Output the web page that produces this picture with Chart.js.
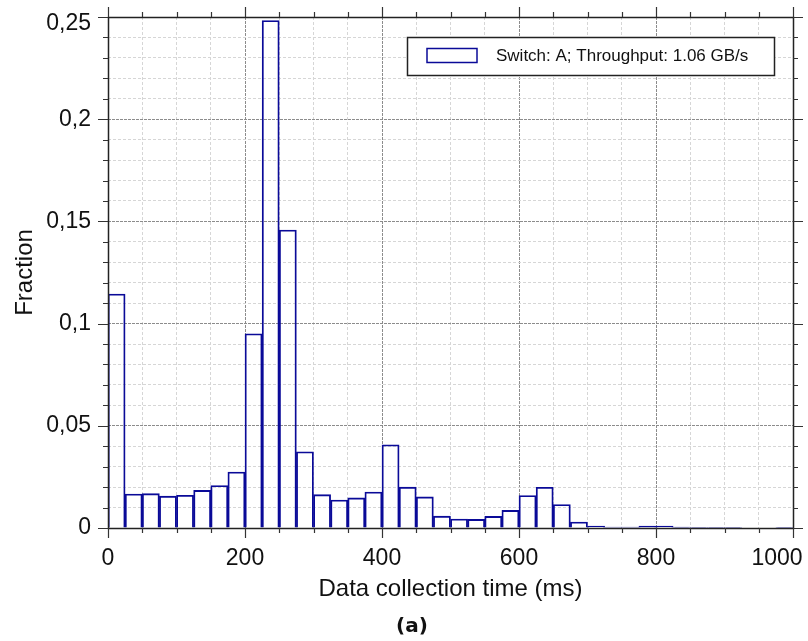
<!DOCTYPE html>
<html>
<head>
<meta charset="utf-8">
<script src="https://cdn.jsdelivr.net/npm/chart.js@4/dist/chart.umd.min.js"></script>
<style>
  html, body { margin: 0; padding: 0; background: #fff; }
  #wrap { width: 808px; height: 641px; }
</style>
</head>
<body>
<div id="wrap"><canvas id="hist" width="808" height="641"></canvas></div>
<script>
// histogram bins (ms, left edge, width 25)
const binStarts = [0, 25, 50, 75, 100, 125, 150, 175, 200, 225, 250, 275, 300, 325, 350, 375,
  400, 425, 450, 475, 500, 525, 550, 575, 600, 625, 650, 675, 700, 725, 750, 775,
  800, 825, 850, 875, 900, 925, 950, 975];
const binWidth = 25;
const fractions = [0.1145, 0.0166, 0.0168, 0.0156, 0.0160, 0.0184, 0.0208, 0.0274,
  0.0950, 0.2483, 0.1458, 0.0373, 0.0163, 0.0137, 0.0147, 0.0176,
  0.0407, 0.0200, 0.0152, 0.0058, 0.0044, 0.0042, 0.0057, 0.0086,
  0.0159, 0.0199, 0.0115, 0.0029, 0.0010, 0.0005, 0.0005, 0.0009,
  0.0010, 0.0004, 0.0003, 0.0002, 0.0001, 0.0, 0.0, 0.0001];
const seriesLabel = 'Switch: A; Throughput: 1.06 GB/s';
const xMajorTicks = [0, 200, 400, 600, 800, 1000];
const xTickLabels = ['0', '200', '400', '600', '800', '1000'];
const yMajorTicks = [0, 0.05, 0.1, 0.15, 0.2, 0.25];
const yTickLabels = ['0', '0,05', '0,1', '0,15', '0,2', '0,25'];

const barColor = '#0a0a98';
const near = (a, b) => Math.abs(a - b) < 1e-7;
const isMajorX = v => xMajorTicks.some(t => near(t, v));
const isMajorY = v => yMajorTicks.some(t => near(t, v));
const gridColor = major => (major ? '#8c8c8c' : '#d6d6d6');
const labelFont = '"Liberation Sans", Arial, sans-serif';

// frame, outside tick marks, legend box and caption
const decor = {
  id: 'decor',
  afterDatasetsDraw(chart) {
    const { ctx, chartArea: a, scales } = chart;
    ctx.save();
    ctx.strokeStyle = '#222';
    ctx.lineWidth = 1.5;
    ctx.strokeRect(a.left + 0.5, a.top + 0.5, a.right - a.left, a.bottom - a.top);

    ctx.lineWidth = 1.2;
    ctx.strokeStyle = '#333';
    ctx.beginPath();
    scales.x.ticks.forEach(t => {
      const px = Math.round(scales.x.getPixelForValue(t.value)) + 0.5;
      const len = isMajorX(t.value) ? 10 : 5;
      ctx.moveTo(px, a.bottom); ctx.lineTo(px, a.bottom + len);
      ctx.moveTo(px, a.top); ctx.lineTo(px, a.top - len);
    });
    scales.y.ticks.forEach(t => {
      const py = Math.round(scales.y.getPixelForValue(t.value)) + 0.5;
      const len = isMajorY(t.value) ? 10 : 5;
      ctx.moveTo(a.left, py); ctx.lineTo(a.left - len, py);
      ctx.moveTo(a.right, py); ctx.lineTo(a.right + len, py);
    });
    ctx.stroke();

    // legend
    ctx.fillStyle = '#fff';
    ctx.fillRect(407, 37, 367, 39);
    ctx.strokeStyle = '#222';
    ctx.lineWidth = 1.5;
    ctx.strokeRect(407.5, 37.5, 367, 38);
    ctx.strokeStyle = barColor;
    ctx.strokeRect(427, 48.5, 50, 14);
    ctx.fillStyle = '#111';
    ctx.font = '17px ' + labelFont;
    ctx.textBaseline = 'middle';
    ctx.textAlign = 'left';
    ctx.fillText(chart.data.datasets[0].label, 496, 56.5);

    // caption
    ctx.font = 'bold 20px "DejaVu Sans", sans-serif';
    ctx.textAlign = 'center';
    ctx.fillText('(a)', 412, 627);
    ctx.restore();
  }
};

new Chart(document.getElementById('hist'), {
  type: 'bar',
  data: {
    datasets: [{
      label: seriesLabel,
      data: binStarts.map((b, i) => ({ x: b + binWidth / 2, y: fractions[i] })),
      backgroundColor: 'rgba(255,255,255,0)',
      borderColor: barColor,
      borderWidth: 1.2,
      barPercentage: 1,
      categoryPercentage: 1
    }]
  },
  options: {
    responsive: false,
    animation: false,
    layout: { padding: { left: 0, top: 17, right: 15, bottom: 0 } },
    plugins: { legend: { display: false }, tooltip: { enabled: false } },
    scales: {
      x: {
        type: 'linear',
        min: 0, max: 1000,
        offset: false,
        afterFit: s => { s.height = 113; s.paddingLeft = 0; s.paddingRight = 0; },
        ticks: {
          stepSize: 50, autoSkip: false, maxRotation: 0, padding: 17,
          color: '#111',
          font: { family: labelFont, size: 23 },
          callback: v => {
            const i = xMajorTicks.findIndex(t => near(t, v));
            if (i < 0) return '';
            // last label is kept inside the canvas, as in the original
            return i === xMajorTicks.length - 1 ? xTickLabels[i] + '     ' : xTickLabels[i];
          }
        },
        grid: {
          offset: false, drawTicks: false, lineWidth: 1,
          color: c => gridColor(c.tick && isMajorX(c.tick.value))
        },
        border: { display: false, dash: c => (c.tick && isMajorX(c.tick.value) ? [3, 1] : [3, 2]) },
        title: {
          display: true, text: 'Data collection time (ms)', color: '#111',
          font: { family: labelFont, size: 24 },
          padding: { top: 0, bottom: 37 }
        }
      },
      y: {
        min: 0, max: 0.25,
        afterFit: s => { s.width = 108; s.paddingTop = 0; s.paddingBottom = 0; },
        ticks: {
          stepSize: 0.01, autoSkip: false, padding: 17,
          color: '#111',
          // top label sits a little lower so it stays inside the canvas
          font: c => ({ family: labelFont, size: 23, lineHeight: c.tick && near(c.tick.value, 0.25) ? '13px' : 1.2 }),
          callback: v => {
            const i = yMajorTicks.findIndex(t => near(t, v));
            if (i < 0) return '';
            return i === yMajorTicks.length - 1 ? ['', yTickLabels[i]] : yTickLabels[i];
          }
        },
        grid: {
          drawTicks: false, lineWidth: 1,
          color: c => gridColor(c.tick && isMajorY(c.tick.value))
        },
        border: { display: false, dash: c => (c.tick && isMajorY(c.tick.value) ? [3, 1] : [3, 2]) },
        title: {
          display: true, text: 'Fraction', color: '#111',
          font: { family: labelFont, size: 24 },
          padding: { top: 11, bottom: 0 }
        }
      }
    }
  },
  plugins: [decor]
});
</script>
</body>
</html>
